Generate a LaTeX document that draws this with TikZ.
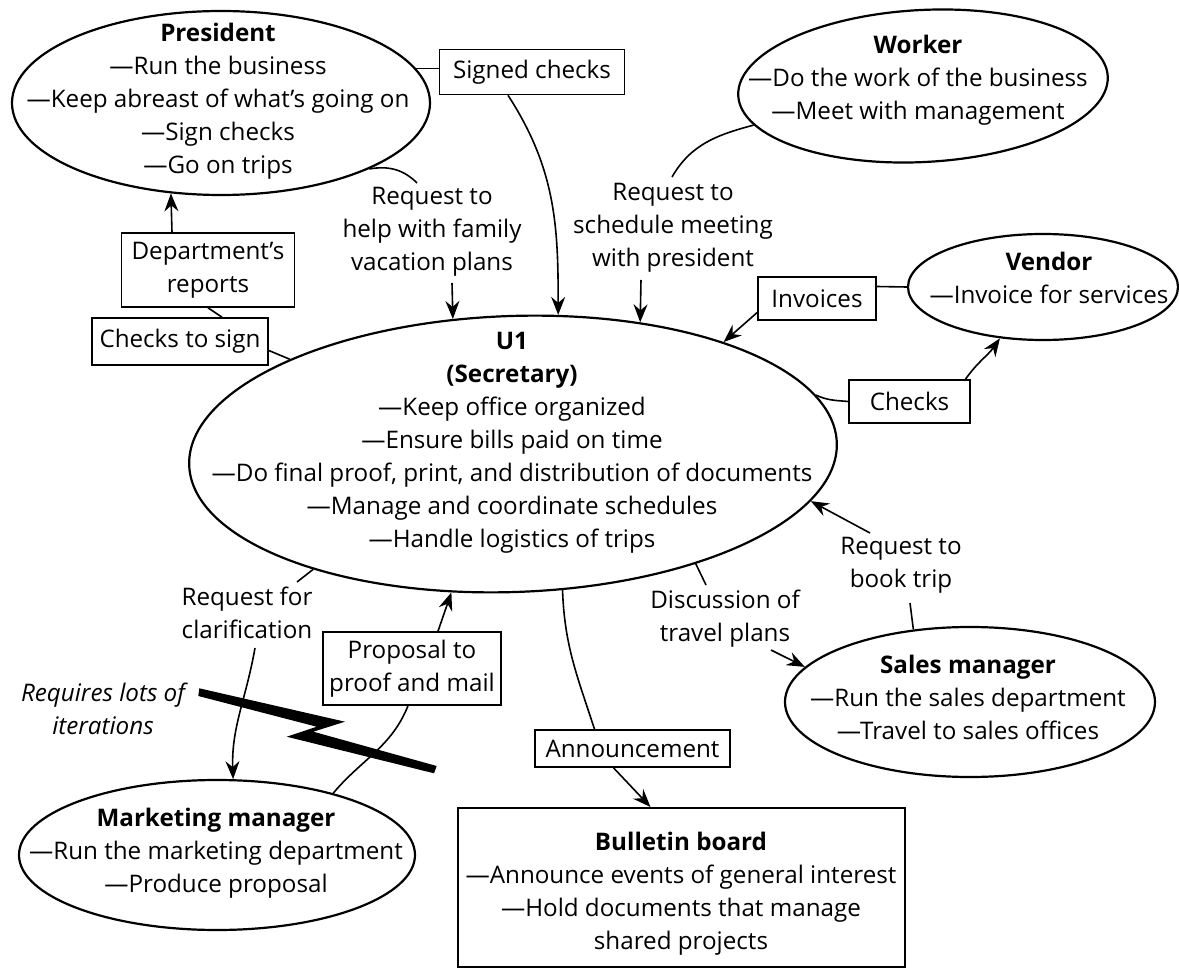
\documentclass[tikz,border=0pt]{standalone}
\usepackage{fontspec}
\setmainfont{Open Sans}
\usetikzlibrary{arrows.meta,shapes.geometric}
\begin{document}
\begin{tikzpicture}[x=0.5pt,y=0.5pt]
\tikzset{
  every node/.style={font=\fontsize{12.1}{16.5}\selectfont},
  ent/.style={ellipse, draw, line width=1.1pt, inner sep=0pt},
  txt/.style={align=center, inner sep=0pt},
  lbox/.style={draw, line width=0.8pt, inner sep=0pt, align=center},
  conn/.style={line width=0.8pt},
  arr/.style={conn, -{Stealth[length=9pt,width=7pt,inset=3pt]}},
}
\useasboundingbox (0,0) rectangle (1179,-973);

% entities
\node[ent, minimum width=209pt, minimum height=92pt] (pres) at (221,-103) {};
\node[ent, minimum width=185pt, minimum height=76pt, rotate=3] (worker) at (923,-86) {};
\node[ent, minimum width=135pt, minimum height=53pt] (vendor) at (1043,-287) {};
\node[ent, minimum width=324pt, minimum height=138pt, rotate=2] (u1) at (513,-454) {};
\node[ent, minimum width=185pt, minimum height=75pt] (sales) at (970,-702) {};
\node[ent, minimum width=198pt, minimum height=75pt] (mkt) at (217,-855) {};
\node[lbox, line width=1pt, minimum width=223.5pt, minimum height=79.5pt] (bull) at (681.5,-887.5) {};

% entity texts
\node[txt] (prestxt) at (218,-101.5) {\textbf{President}\\—Run the business\\—Keep abreast of what’s going on\\—Sign checks\\—Go on trips};
\node[txt] (workertxt) at (918,-80.5) {\textbf{Worker}\\—Do the work of the business\\—Meet with management};
\node[txt] (vendortxt) at (1049,-277.5) {\textbf{Vendor}\\—Invoice for services};
\node[txt] (u1txt) at (512,-442.5) {\textbf{U1}\\\textbf{(Secretary)}\\—Keep office organized\\—Ensure bills paid on time\\—Do final proof, print, and distribution of documents\\—Manage and coordinate schedules\\—Handle logistics of trips};
\node[txt] (salestxt) at (968,-697.5) {\textbf{Sales manager}\\—Run the sales department\\—Travel to sales offices};
\node[txt] (mkttxt) at (216,-853.5) {\textbf{Marketing manager}\\—Run the marketing department\\—Produce proposal};
\node[txt] (bulltxt) at (681,-894) {\textbf{Bulletin board}\\—Announce events of general interest\\—Hold documents that manage\\shared projects};

% labelled boxes
\node[lbox, minimum width=92.5pt, minimum height=22.5pt] (signed) at (532,-72) {Signed checks};
\node[lbox, minimum width=86.5pt, minimum height=37pt] (dept) at (208,-270) {Department’s\\reports};
\node[lbox, minimum width=88pt, minimum height=23.5pt] (cts) at (180,-341.5) {Checks to sign};
\node[lbox, minimum width=59pt, minimum height=21.5pt] (inv) at (817,-298.5) {Invoices};
\node[lbox, minimum width=60.5pt, minimum height=21.5pt] (checks) at (909.5,-401.5) {Checks};
\node[lbox, minimum width=89pt, minimum height=36.5pt] (prop) at (412,-668.5) {Proposal to\\proof and mail};
\node[lbox, minimum width=97.5pt, minimum height=18.5pt] (ann) at (632.5,-748.5) {Announcement};

% free labels
\node[txt] (req1) at (432,-231.5) {Request to\\help with family\\vacation plans};
\node[txt] (req2) at (673,-228) {Request to\\schedule meeting\\with president};
\node[txt] (clar) at (247,-612.5) {Request for\\clarification};
\node[txt] (disc) at (725,-618.5) {Discussion of\\travel plans};
\node[txt] (book) at (901,-565) {Request to\\book trip};
\node[txt, font=\fontsize{12.1}{16.5}\selectfont\itshape] (iter) at (103,-708.5) {Requires lots of\\iterations};

% free ends
\coordinate (c1) at (417,-183);
\coordinate (a1) at (452,-283);
\coordinate (c2) at (672,-177);
\coordinate (a2) at (641,-280);
\coordinate (c4) at (910,-603);
\coordinate (a4) at (870,-533);
\coordinate (c5) at (706,-585);
\coordinate (a5) at (771,-650);
\coordinate (c6) at (297,-582);
\coordinate (a6) at (255,-648);

% connectors
\draw[conn] (pres.10) -- (pres.10 -| signed.west);
\draw[arr] ([xshift=-12pt]signed.south) to[out=-57,in=90] (u1.70);
\draw[arr] ([xshift=-18pt]dept.north) -- (pres.241);
\draw[conn] (dept.south) -- ([xshift=21pt]cts.north);
\draw[conn] ([yshift=-4.5pt]cts.east) -- (u1.155);
\draw[conn] (pres.-24) to[out=10,in=135] (c1);
\draw[arr] (a1) -- (u1.112);
\draw[conn] (worker.190) to[out=195,in=60] (c2);
\draw[arr] (a2) -- (u1.44);
\draw[conn] (vendor.west) -- ([yshift=6pt]inv.east);
\draw[arr] ([yshift=-7pt]inv.west) -- (u1.26);
\draw[conn] (u1.9) to[out=-25,in=175] (checks.west);
\draw[arr] ([xshift=28pt]checks.north) to[out=55,in=235] (vendor.230);
\draw[conn] (sales.128) -- (c4);
\draw[arr] (a4) -- (u1.-11);
\draw[conn] (u1.-33) -- (c5);
\draw[arr] (a5) -- (sales.168);
\draw[conn] (u1.-72) to[out=-88,in=108] ([xshift=-19pt]ann.north);
\draw[arr] ([xshift=-9.5pt]ann.south) -- ([xshift=-15.5pt]bull.north);
\draw[arr] ([xshift=13pt]prop.north) -- (u1.-116);
\draw[conn] ([xshift=-2pt]prop.south) to[out=-112,in=50] (mkt.28);
\draw[conn] (u1.-152) -- (c6);
\draw[arr] (a6) to[out=-100,in=92] (mkt.78);

% lightning bolt
\fill (199.3,-688.3) -- (345,-721.7) -- (313.3,-731.7) -- (436.7,-766) -- (434,-773.3) -- (286.7,-736.7) -- (316.7,-726.7) -- (198.3,-696) -- cycle;
\end{tikzpicture}
\end{document}
